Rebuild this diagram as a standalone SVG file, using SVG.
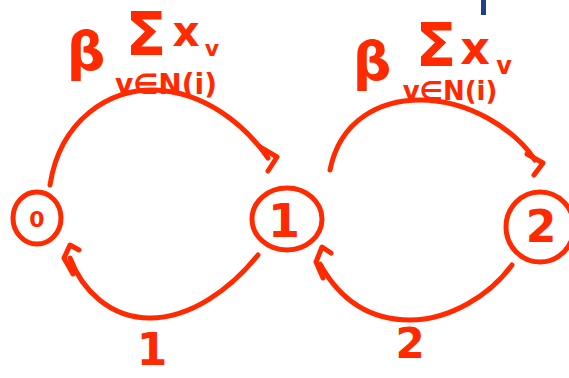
<svg xmlns="http://www.w3.org/2000/svg" width="569" height="378" viewBox="0 0 569 378">
<style>
.s{fill:none;stroke:#ff2a00;stroke-width:5;stroke-linecap:round;stroke-linejoin:round}
.t{fill:#ff2a00;font-family:"DejaVu Sans",sans-serif;font-weight:bold;text-anchor:middle}
</style>
<rect width="569" height="378" fill="#fff"/>
<rect x="481" y="0" width="5" height="15" fill="#1f3f8f"/>
<g id="label-top-left">
<text class="t" x="86" y="70" font-size="54">β</text>
<text class="t" x="146" y="55" font-size="60">Σ</text>
<text class="t" x="186" y="46" font-size="42">x</text>
<text class="t" x="212" y="56" font-size="22">v</text>
<text class="t" x="166" y="94" font-size="28">v∈N(i)</text>
</g>
<g id="label-top-right">
<text class="t" x="372" y="80" font-size="54">β</text>
<text class="t" x="436" y="66" font-size="60">Σ</text>
<text class="t" x="475" y="64" font-size="46">x</text>
<text class="t" x="504" y="74" font-size="24">v</text>
<text class="t" x="450" y="100" font-size="26">v∈N(i)</text>
</g>
<g id="connectors">
<path class="s" d="M50,185 C60,120 110,88 155,90 C205,92 245,125 268,158"/>
<path class="s" d="M260,147 L277,157 L268,171"/>
<path class="s" d="M258,255 C230,290 190,318 150,318 C110,318 82,290 70,258"/>
<path class="s" d="M73,274 L64,258 L70,245 L79,250"/>
<path class="s" d="M330,170 C340,120 380,100 420,100 C470,100 515,130 535,160"/>
<path class="s" d="M527,154 L543,163 L534,175"/>
<path class="s" d="M512,265 C490,295 450,320 410,320 C370,320 340,300 320,264"/>
<path class="s" d="M323,278 L316,262 L322,247 L331,253"/>
<text class="t" x="152" y="365" font-size="44">1</text>
<text class="t" x="410" y="358" font-size="42">2</text>
</g>
<g id="node-0">
<ellipse class="s" cx="37" cy="218" rx="24" ry="26"/>
<text class="t" x="37" y="227" font-size="22">0</text>
</g>
<g id="node-1">
<ellipse class="s" cx="287" cy="219" rx="35" ry="31"/>
<text class="t" x="284" y="237" font-size="46">1</text>
</g>
<g id="node-2">
<ellipse class="s" cx="540" cy="227" rx="34" ry="35"/>
<text class="t" x="541" y="242" font-size="44">2</text>
</g>
</svg>
